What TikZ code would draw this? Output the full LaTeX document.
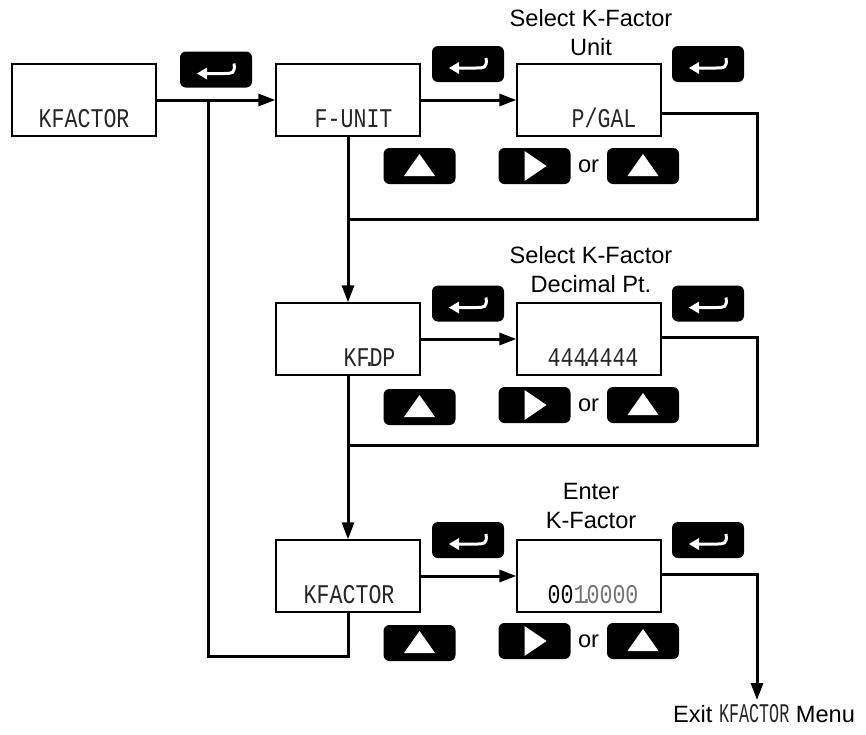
\documentclass[tikz,border=0pt]{standalone}
\usepackage{graphicx}
\usepackage{fontspec}
\setmainfont{Liberation Sans}
\newfontfamily\lcdfont{Liberation Mono}
\usetikzlibrary{arrows.meta,calc}
\newcommand{\lcdtext}[1]{\scalebox{0.8}[1]{#1}}
\newcommand{\zdot}{\makebox[0pt]{.}}
\tikzset{
  entersym/.pic={
    \draw[white,line width=3pt] (18,-6) .. controls (19.5,4) and (16,4) .. (8,4) -- (-10,4);
    \fill[white] (-19,4) -- (-9,-2) -- (-9,10) -- cycle;},
  upsym/.pic={\fill[white] (-15.5,10) -- (15.5,10) -- (0,-12) -- cycle;},
  rightsym/.pic={\fill[white] (-10,-15) -- (-10,15) -- (12,0) -- cycle;}
}
\begin{document}
\begin{tikzpicture}[x=1pt,y=-1pt,
  lcdbox/.style={draw=black,line width=1.3pt,minimum width=144pt,minimum height=72pt,inner sep=0pt},
  btn/.style={fill=black,rounded corners=6pt,minimum width=72pt,minimum height=36pt,inner sep=0pt},
  conn/.style={line width=3pt},
  arr/.style={conn,-{Triangle[length=17pt,width=12pt]}},
  lcdtxt/.style={anchor=base east,inner sep=0pt,font=\lcdfont\fontsize{27}{27}\selectfont,text=black!85},
  lbl/.style={font=\fontsize{23.6}{28}\selectfont,inner sep=0pt,anchor=base},
]
\useasboundingbox (0,0) rectangle (866,734);

% LCD boxes
\node[lcdbox] (b1) at (84,100) {};
\node[lcdbox] (b2) at (348,100) {};
\node[lcdbox] (b3) at (589,100) {};
\node[lcdbox] (b4) at (348,339) {};
\node[lcdbox] (b5) at (589,339) {};
\node[lcdbox] (b6) at (348,576) {};
\node[lcdbox] (b7) at (589,576) {};

\node[lcdtxt] (t1) at ($(b1.south east)+(-27,-9)$) {\lcdtext{KFACTOR}};
\node[lcdtxt] (t2) at ($(b2.south east)+(-28,-9)$) {\lcdtext{F-UNIT}};
\node[lcdtxt] (t3) at ($(b3.south east)+(-25,-9)$) {\lcdtext{P/GAL}};
\node[lcdtxt] (t4) at ($(b4.south east)+(-25,-9)$) {\lcdtext{KF\zdot DP}};
\node[lcdtxt] (t5) at ($(b5.south east)+(-23,-9)$) {\lcdtext{444\zdot 4444}};
\node[lcdtxt] (t6) at ($(b6.south east)+(-26,-9)$) {\lcdtext{KFACTOR}};
\node[lcdtxt] (t7) at ($(b7.south east)+(-23,-9)$) {\lcdtext{{\color{black}00}{\color{black!55}1\zdot 0000}}};

% enter buttons
\node[btn] (e1) at (216,69.5) {}; \pic at (e1) {entersym};
\node[btn] (e2) at (468,64) {}; \pic at (e2) {entersym};
\node[btn] (e3) at (708,64) {}; \pic at (e3) {entersym};
\node[btn] (e4) at (468,303.5) {}; \pic at (e4) {entersym};
\node[btn] (e5) at (708,303.5) {}; \pic at (e5) {entersym};
\node[btn] (e6) at (468,540) {}; \pic at (e6) {entersym};
\node[btn] (e7) at (708,540) {}; \pic at (e7) {entersym};

% up / right buttons
\node[btn] (u2) at (419.5,166) {}; \pic at (u2) {upsym};
\node[btn] (r3) at (534.5,166) {}; \pic at (r3) {rightsym};
\node[btn] (u3) at (643,166) {}; \pic at (u3) {upsym};
\node[lbl] (or1) at (588.5,172) {or};

\node[btn] (u4) at (419.5,407) {}; \pic at (u4) {upsym};
\node[btn] (r5) at (534.5,405) {}; \pic at (r5) {rightsym};
\node[btn] (u5) at (643,405) {}; \pic at (u5) {upsym};
\node[lbl] (or2) at (588.5,411) {or};

\node[btn] (u6) at (419.5,643) {}; \pic at (u6) {upsym};
\node[btn] (r7) at (534.5,641) {}; \pic at (r7) {rightsym};
\node[btn] (u7) at (643,641) {}; \pic at (u7) {upsym};
\node[lbl] (or3) at (588.5,647) {or};

% labels
\node[lbl] (l1a) at (591,26) {Select K-Factor};
\node[lbl] (l1b) at (591,55) {Unit};
\node[lbl] (l2a) at (591,263) {Select K-Factor};
\node[lbl] (l2b) at (591,292) {Decimal Pt.};
\node[lbl] (l3a) at (591,499) {Enter};
\node[lbl] (l3b) at (591,528) {K-Factor};
\node[lbl] (exit) at (764,722) {Exit {\lcdfont\fontsize{27}{27}\selectfont\color{black!85}\scalebox{0.62}[1]{KFACTOR}} Menu};

% connectors
\coordinate (j1) at (208,100);
\coordinate (l1) at (208,656);
\draw[arr] (b1.east) -- (b2.west);
\draw[conn] (j1) -- (l1) -| (b6.south);

\draw[arr] (b2.east) -- (b3.west);
\coordinate (o3) at ($(b3.east)+(0,13)$);
\coordinate (r1) at (757,219);
\draw[conn] (o3) -| (r1) -- (r1 -| b2.south);
\draw[arr] (b2.south) -- (b4.north);

\draw[arr] (b4.east) -- (b5.west);
\coordinate (o5) at ($(b5.east)+(0,-2)$);
\coordinate (r2) at (757,445);
\draw[conn] (o5) -| (r2) -- (r2 -| b4.south);
\draw[arr] (b4.south) -- (b6.north);

\draw[arr] (b6.east) -- (b7.west);
\coordinate (o7) at ($(b7.east)+(0,-2)$);
\coordinate (xt) at (757,700);
\draw[arr] (o7) -| (xt);
\end{tikzpicture}
\end{document}
